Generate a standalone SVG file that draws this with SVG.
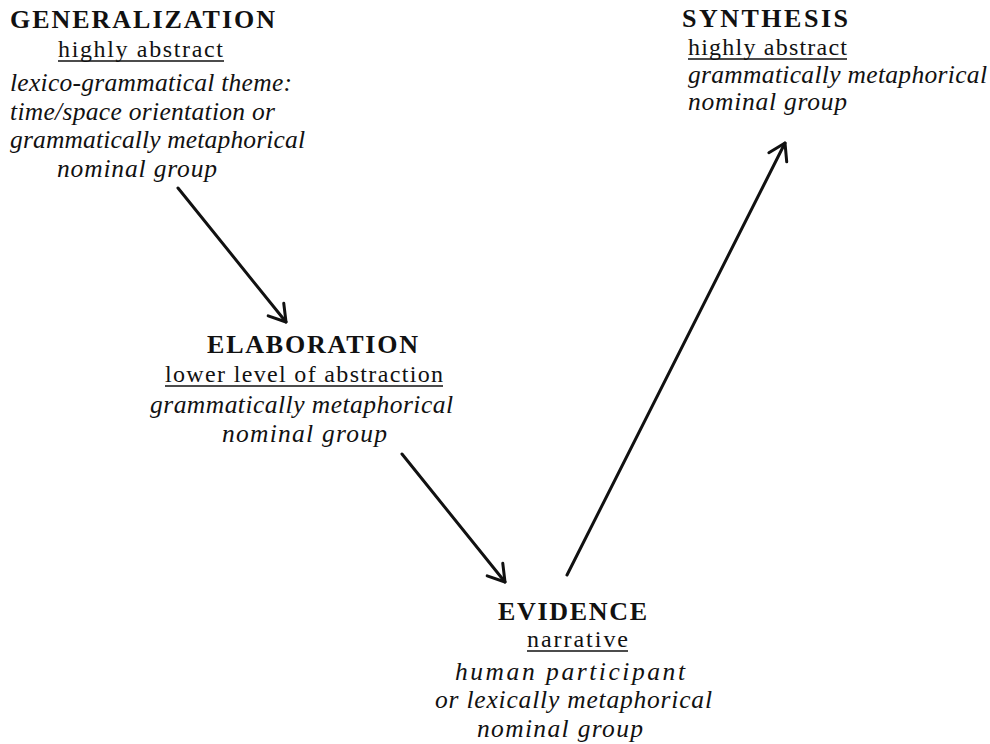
<svg xmlns="http://www.w3.org/2000/svg" width="990" height="744" viewBox="0 0 990 744">
  <style>
    .head { font-family: "Liberation Serif", "Times New Roman", serif; font-weight: bold; font-size: 26px; fill: #111; }
    .sub { font-family: "Liberation Serif", "Times New Roman", serif; font-size: 24px; fill: #111; }
    .desc { font-family: "Liberation Serif", "Times New Roman", serif; font-style: italic; font-size: 25.5px; fill: #111; }
    .ul { stroke: #111; stroke-width: 1.6; }
    .arrow { fill: none; stroke: #111; stroke-width: 3; stroke-linecap: round; marker-end: url(#vhead); }
  </style>
  <defs>
    <marker id="vhead" markerUnits="userSpaceOnUse" viewBox="-20 -12 24 24" refX="0" refY="0" markerWidth="24" markerHeight="24" orient="auto">
      <path d="M-16,-10 L0,0 L-16,10" fill="none" stroke="#111" stroke-width="3" stroke-linecap="round" stroke-linejoin="round"/>
    </marker>
  </defs>
  <rect width="990" height="744" fill="#fff"/>

  <g id="generalization">
    <text class="head" x="10" y="28" textLength="265">GENERALIZATION</text>
    <text class="sub" x="58" y="57" textLength="165">highly abstract</text>
    <line class="ul" x1="58" y1="61" x2="224" y2="61"/>
    <text class="desc" x="10" y="91" textLength="282">lexico-grammatical theme:</text>
    <text class="desc" x="10" y="120" textLength="265">time/space orientation or</text>
    <text class="desc" x="10" y="148" textLength="295">grammatically metaphorical</text>
    <text class="desc" x="57" y="177" textLength="160">nominal group</text>
  </g>

  <g id="elaboration">
    <text class="head" x="207" y="353" textLength="211">ELABORATION</text>
    <text class="sub" x="165" y="382" textLength="278">lower level of abstraction</text>
    <line class="ul" x1="165" y1="386" x2="443" y2="386"/>
    <text class="desc" x="150" y="413" textLength="303">grammatically metaphorical</text>
    <text class="desc" x="222" y="442" textLength="165">nominal  group</text>
  </g>

  <g id="evidence">
    <text class="head" x="498" y="620" textLength="149">EVIDENCE</text>
    <text class="sub" x="527" y="647" textLength="101">narrative</text>
    <line class="ul" x1="527" y1="651" x2="628" y2="651"/>
    <text class="desc" x="455" y="680" textLength="230">human participant</text>
    <text class="desc" x="435" y="708" textLength="277">or lexically metaphorical</text>
    <text class="desc" x="477" y="737" textLength="166">nominal group</text>
  </g>

  <g id="synthesis">
    <text class="head" x="682" y="27" textLength="166">SYNTHESIS</text>
    <text class="sub" x="688" y="55" textLength="159">highly abstract</text>
    <line class="ul" x1="688" y1="59" x2="847" y2="59"/>
    <text class="desc" x="688" y="83" textLength="299">grammatically metaphorical</text>
    <text class="desc" x="688" y="110" textLength="159">nominal group</text>
  </g>

  <g id="connectors">
    <path class="arrow" d="M178,188 L286,322"/>
    <path class="arrow" d="M402,454 L505,582"/>
    <path class="arrow" d="M567,575 L785,143"/>
  </g>
</svg>
